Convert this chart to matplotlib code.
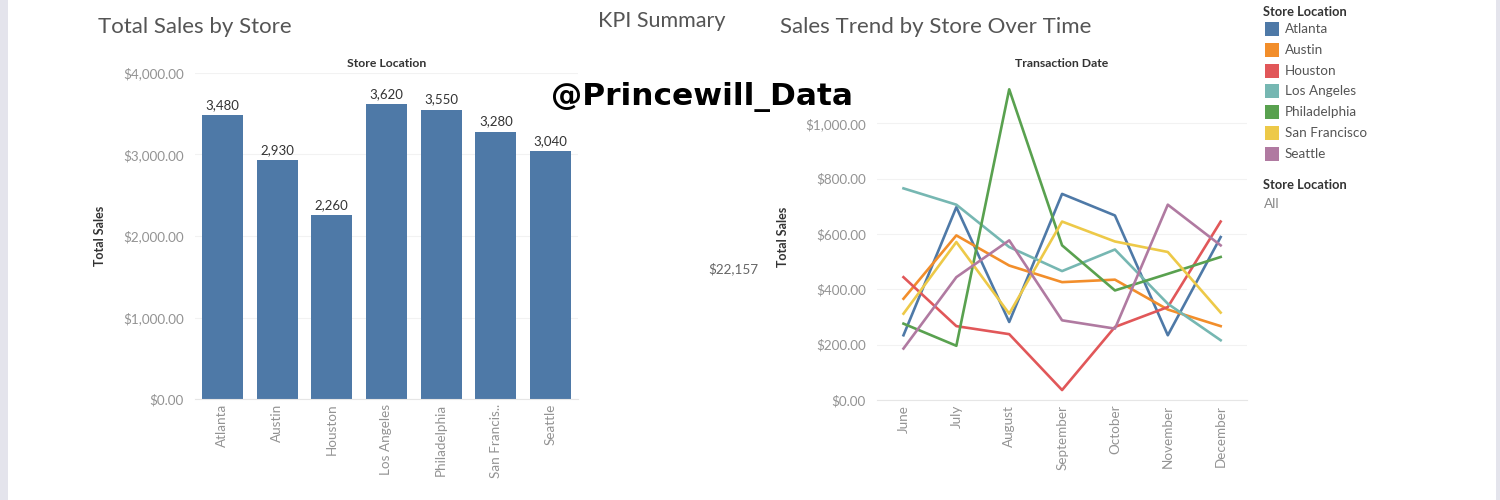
import numpy as np
import matplotlib
matplotlib.use("Agg")
import matplotlib.pyplot as plt
from matplotlib.ticker import FuncFormatter
from matplotlib.patches import Rectangle

plt.rcParams['font.family'] = ['Lato', 'DejaVu Sans']

# data
stores = ['Atlanta', 'Austin', 'Houston', 'Los Angeles', 'Philadelphia', 'San Francisco', 'Seattle']
store_ticks = ['Atlanta', 'Austin', 'Houston', 'Los Angeles', 'Philadelphia', 'San Francis..', 'Seattle']
total_sales = [3480, 2930, 2260, 3620, 3550, 3280, 3040]
kpi_total = '$22,157'

months = ['June', 'July', 'August', 'September', 'October', 'November', 'December']
atlanta = [234, 697, 282, 745, 667, 234, 589]
austin = [366, 595, 486, 426, 435, 327, 267]
houston = [444, 267, 238, 36, 264, 336, 645]
los_angeles = [765, 706, 553, 466, 544, 348, 216]
philadelphia = [276, 196, 1123, 559, 396, 456, 517]
san_francisco = [312, 571, 312, 645, 573, 535, 316]
seattle = [186, 444, 577, 288, 258, 706, 559]

colors = ['#4e79a7', '#f28e2b', '#e15759', '#76b7b2', '#59a14f', '#edc948', '#b07aa1']
series = [atlanta, austin, houston, los_angeles, philadelphia, san_francisco, seattle]

money = FuncFormatter(lambda v, p: '${:,.2f}'.format(v))
tick_grey = '#939393'

fig = plt.figure(figsize=(15, 5), dpi=100)
fig.patch.set_facecolor('white')

# side bands of the dashboard frame
fig.add_artist(Rectangle((0, 0), 0.005, 1, transform=fig.transFigure, color='#e4e4ec', lw=0))
fig.add_artist(Rectangle((0.997, 0), 0.003, 1, transform=fig.transFigure, color='#e4e4ec', lw=0))


def style_axes(ax):
    for s in ['top', 'right', 'left']:
        ax.spines[s].set_visible(False)
    ax.spines['bottom'].set_color('#e6e6e6')
    ax.grid(axis='y', color='#f2f2f2', lw=0.8)
    ax.set_axisbelow(True)
    ax.tick_params(length=0, colors=tick_grey, labelsize=9.7)
    ax.yaxis.set_major_formatter(money)


# bar chart
ax1 = fig.add_axes([0.13, 0.202, 0.2553, 0.652])
x = np.arange(len(stores))
ax1.bar(x, total_sales, width=0.75, color='#4e79a7')
for xi, v in zip(x, total_sales):
    ax1.text(xi, v + 50, '{:,}'.format(v), ha='center', va='bottom', fontsize=9.5, color='#333333')
ax1.set_xlim(-0.5, len(stores) - 0.5)
ax1.set_ylim(0, 4000)
ax1.set_yticks([0, 1000, 2000, 3000, 4000])
ax1.set_xticks(x)
ax1.set_xticklabels(store_ticks, rotation=90)
style_axes(ax1)
ax1.tick_params(axis='y', pad=8)
ax1.set_ylabel('Total Sales', fontsize=9, fontweight='bold', color='#333333', labelpad=12)
ax1.set_title('Store Location', fontsize=8.8, fontweight='bold', color='#333333', pad=4)

# line chart
ax2 = fig.add_axes([0.5847, 0.2, 0.2467, 0.654])
xm = np.arange(len(months))
for name, vals, c in zip(stores, series, colors):
    ax2.plot(xm, vals, color=c, lw=1.9, label=name)
ax2.set_xlim(-0.5, len(months) - 0.5)
ax2.set_ylim(0, 1182)
ax2.set_yticks([0, 200, 400, 600, 800, 1000])
ax2.set_xticks(xm)
ax2.set_xticklabels(months, rotation=90)
style_axes(ax2)
ax2.tick_params(axis='y', pad=8)
ax2.set_ylabel('Total Sales', fontsize=9, fontweight='bold', color='#333333', labelpad=12)
ax2.set_title('Transaction Date', fontsize=8.8, fontweight='bold', color='#333333', pad=4)

# titles and KPI
fig.text(98 / 1500, 1 - 27 / 500, 'Total Sales by Store', fontsize=16, color='#555555', va='center')
fig.text(662 / 1500, 1 - 21 / 500, 'KPI Summary', fontsize=15.5, color='#555555', va='center', ha='center')
fig.text(780 / 1500, 1 - 27 / 500, 'Sales Trend by Store Over Time', fontsize=16, color='#555555', va='center')
fig.text(733 / 1500, 1 - 269 / 500, kpi_total, fontsize=9.7, color='#666666', va='center', ha='center')
fig.text(702 / 1500, 1 - 97 / 500, '@Princewill_Data', fontsize=22.5, fontweight='bold',
         color='black', va='center', ha='center', family=['DejaVu Sans'])

# legend
fig.text(1263 / 1500, 1 - 12 / 500, 'Store Location', fontsize=9.3, fontweight='bold', color='#333333', va='center')
for i, (name, c) in enumerate(zip(stores, colors)):
    yc = 29 + i * 20.8
    fig.add_artist(Rectangle((1265 / 1500, 1 - (yc + 7) / 500), 14 / 1500, 14 / 500,
                             transform=fig.transFigure, color=c, lw=0))
    fig.text(1285 / 1500, 1 - yc / 500, name, fontsize=9.7, color='#555555', va='center')
fig.text(1263 / 1500, 1 - 185 / 500, 'Store Location', fontsize=9.3, fontweight='bold', color='#333333', va='center')
fig.text(1264 / 1500, 1 - 204 / 500, 'All', fontsize=9.7, color='#888888', va='center')

fig.savefig('out.png', dpi=100, facecolor='white')
